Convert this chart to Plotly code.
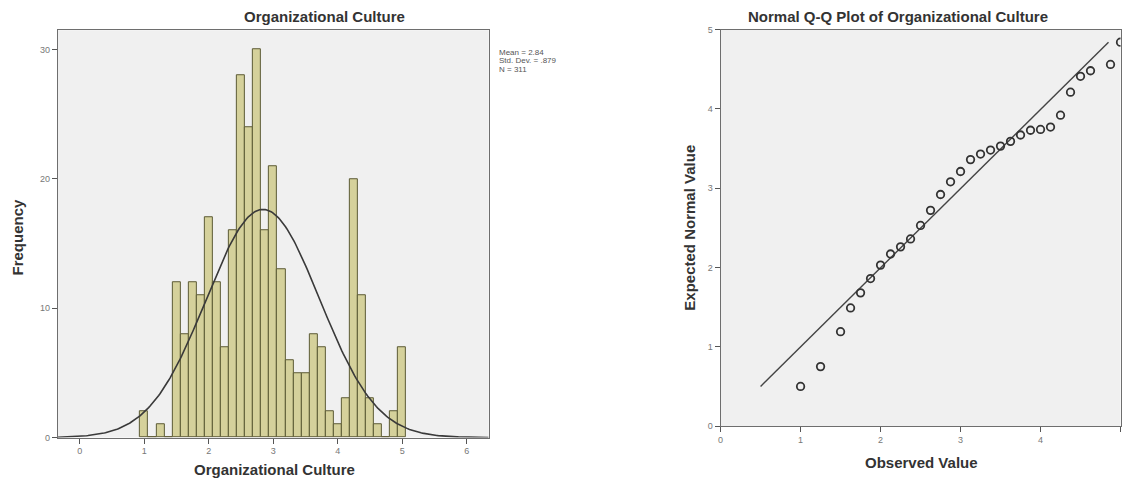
import numpy as np
import plotly.graph_objects as go

# ---------------- data ----------------
bin_centers = [1.0, 1.125, 1.25, 1.375, 1.5, 1.625, 1.75, 1.875, 2.0, 2.125, 2.25, 2.375,
               2.5, 2.625, 2.75, 2.875, 3.0, 3.125, 3.25, 3.375, 3.5, 3.625, 3.75,
               3.875, 4.0, 4.125, 4.25, 4.375, 4.5, 4.625, 4.75, 4.875, 5.0]
frequencies = [2, 0, 1, 0, 12, 8, 12, 11, 17, 12, 7, 16,
               28, 24, 30, 16, 21, 13, 6, 5, 5, 8, 7,
               2, 1, 3, 20, 11, 3, 1, 0, 2, 7]
bin_width = 0.125
stat_mean = 2.84
stat_sd = 0.879
stat_n = 311

qq_observed = [1.0, 1.25, 1.5, 1.625, 1.75, 1.875, 2.0, 2.125, 2.25, 2.375, 2.5, 2.625,
               2.75, 2.875, 3.0, 3.125, 3.25, 3.375, 3.5, 3.625, 3.75, 3.875, 4.0,
               4.125, 4.25, 4.375, 4.5, 4.625, 4.875, 5.0]
qq_expected = [0.50, 0.75, 1.19, 1.49, 1.68, 1.86, 2.03, 2.17, 2.26, 2.36, 2.53, 2.72,
               2.92, 3.08, 3.21, 3.36, 3.43, 3.48, 3.53, 3.59, 3.67, 3.73, 3.74,
               3.77, 3.92, 4.21, 4.41, 4.48, 4.56, 4.84]
ref_line_x = [0.5, 4.85]
ref_line_y = [0.5, 4.84]

hist_xticks = [0, 1, 2, 3, 4, 5, 6]
hist_yticks = [0, 10, 20, 30]
qq_ticks = [0, 1, 2, 3, 4, 5]

stats_lines = [f"Mean = {stat_mean:.2f}", f"Std. Dev. = {str(stat_sd)[1:]}", f"N = {stat_n}"]

# ---------------- figure ----------------
W, H = 1122, 485
FONT = "Liberation Sans, Arial, sans-serif"

def px_x(p):
    return p / W

def px_y(p):
    # small correction for the vertical placement observed in the render
    q = (p - 4.8) / 0.978
    return 1 - q / H

fig = go.Figure()

fig.add_trace(go.Bar(
    x=bin_centers, y=frequencies, width=bin_width,
    marker=dict(color="#d5d19b", line=dict(color="#5c5a34", width=1)),
    xaxis="x", yaxis="y", showlegend=False, hoverinfo="x+y"))

xr = (-0.34, 6.34)
cx = np.linspace(xr[0], xr[1], 300)
cy = stat_n * bin_width * np.exp(-0.5 * ((cx - stat_mean) / stat_sd) ** 2) / (stat_sd * np.sqrt(2 * np.pi))
fig.add_trace(go.Scatter(x=cx, y=cy, mode="lines", line=dict(color="#3a3a3a", width=1.6),
                         xaxis="x", yaxis="y", showlegend=False, hoverinfo="skip"))

fig.add_trace(go.Scatter(x=ref_line_x, y=ref_line_y, mode="lines",
                         line=dict(color="#444444", width=1.4),
                         xaxis="x2", yaxis="y2", showlegend=False, hoverinfo="skip"))
fig.add_trace(go.Scatter(x=qq_observed, y=qq_expected, mode="markers",
                         marker=dict(symbol="circle-open", size=7.5, color="#333333",
                                     line=dict(width=1.8, color="#333333")),
                         xaxis="x2", yaxis="y2", showlegend=False))

axis_common = dict(showgrid=False, zeroline=False, showline=True, mirror=True,
                   linecolor="#6e6e6e", linewidth=1, ticks="outside", ticklen=5,
                   tickcolor="#555555", tickfont=dict(family=FONT, size=9, color="#777777"))

fig.update_layout(
    width=W, height=H,
    margin=dict(l=0, r=0, t=0, b=0),
    paper_bgcolor="white",
    plot_bgcolor="#f0f0f0",
    bargap=0,
    xaxis=dict(domain=[px_x(55), px_x(487)], range=list(xr), tickvals=hist_xticks,
               anchor="y", **axis_common),
    yaxis=dict(domain=[px_y(436.7), px_y(30)], range=[0, 31.5], tickvals=hist_yticks,
               anchor="x", **axis_common),
    xaxis2=dict(domain=[px_x(719.5), px_x(1120.5)], range=[0, 5], tickvals=qq_ticks,
                anchor="y2", **axis_common),
    yaxis2=dict(domain=[px_y(425.3), px_y(29.3)], range=[0, 5], tickvals=qq_ticks,
                anchor="x2", **axis_common),
)

def label(text, x, y, size=15, bold=True, angle=0, xanchor="center", color="#333333"):
    fig.add_annotation(text=f"<b>{text}</b>" if bold else text,
                       x=px_x(x), y=px_y(y), xref="paper", yref="paper",
                       showarrow=False, textangle=angle, xanchor=xanchor, yanchor="middle",
                       font=dict(family=FONT, size=size, color=color))

label("Organizational Culture", 322, 16)
label("Organizational Culture", 272, 469)
label("Frequency", 15, 236, angle=-90)
label("Normal Q-Q Plot of Organizational Culture", 897, 16)
label("Observed Value", 921, 462)
label("Expected Normal Value", 688, 227, angle=-90)

for i, line in enumerate(stats_lines):
    label(line, 495, 52 + 8.6 * i, size=8, bold=False, xanchor="left", color="#555555")

fig.write_html("out.html", config={"displayModeBar": False},
               post_script="document.body.style.margin='0';document.body.style.overflow='hidden';")
